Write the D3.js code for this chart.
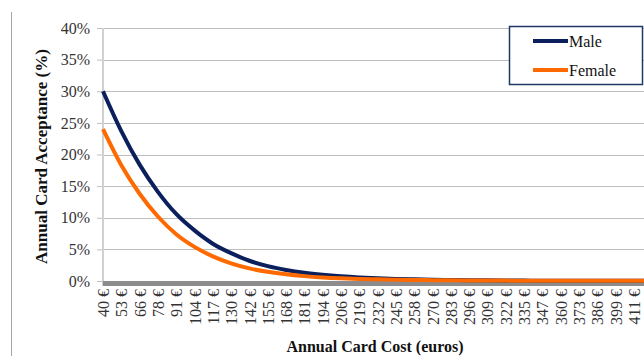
<!DOCTYPE html>
<html>
<head>
<meta charset="utf-8">
<script src="https://cdn.jsdelivr.net/npm/d3@7"></script>
<style>
  html, body { margin: 0; padding: 0; background: #fff; overflow: hidden; }
  svg { display: block; }
</style>
</head>
<body>
<svg id="chart" width="644" height="356"></svg>
<script>
// Annual card cost categories (euros)
const categories = ["40 €","53 €","66 €","78 €","91 €","104 €","117 €","130 €","142 €","155 €",
  "168 €","181 €","194 €","206 €","219 €","232 €","245 €","258 €","270 €","283 €",
  "296 €","309 €","322 €","335 €","347 €","360 €","373 €","386 €","399 €","411 €","424 €"];

// Acceptance rate (%) per cost level
const male = [30.0, 23.7, 18.4, 14.1, 10.6, 8.0, 5.9, 4.4, 3.2, 2.35,
  1.75, 1.3, 0.98, 0.74, 0.56, 0.43, 0.33, 0.26, 0.2, 0.16,
  0.12, 0.1, 0.08, 0.06, 0.05, 0.04, 0.03, 0.03, 0.02, 0.02, 0.02];
const female = [24.0, 18.3, 13.8, 10.2, 7.4, 5.4, 3.9, 2.8, 2.0, 1.45,
  1.05, 0.77, 0.57, 0.43, 0.33, 0.26, 0.2, 0.16, 0.13, 0.1,
  0.08, 0.07, 0.06, 0.05, 0.04, 0.03, 0.03, 0.02, 0.02, 0.02, 0.02];

const yTicks = [0, 5, 10, 15, 20, 25, 30, 35, 40];

const seriesNames = ["Male", "Female"];
const seriesColors = ["#0a1f5c", "#ff6a00"];

const FONT = '"Liberation Serif", "Times New Roman", serif';

const svg = d3.select("#chart");

const plotLeft = 103, plotTop = 28, plotBottom = 281;
const step = 18.3;
const x = d3.scalePoint()
  .domain(categories)
  .range([plotLeft, plotLeft + step * (categories.length - 1)]);
const y = d3.scaleLinear().domain([0, 40]).range([plotBottom, plotTop]);
const plotRight = x(categories[categories.length - 1]);

// outer chart border (left edge)
svg.append("line")
  .attr("x1", 11.5).attr("x2", 11.5).attr("y1", 12).attr("y2", 356)
  .attr("stroke", "#a6a6a6").attr("stroke-width", 1);

// horizontal gridlines
svg.append("g").selectAll("line")
  .data(yTicks.filter(d => d > 0))
  .join("line")
  .attr("x1", plotLeft).attr("x2", plotRight)
  .attr("y1", d => Math.round(y(d)) + 0.5).attr("y2", d => Math.round(y(d)) + 0.5)
  .attr("stroke", "#bdbdbd").attr("stroke-width", 1);

// y axis
const yAxis = d3.axisLeft(y)
  .tickValues(yTicks)
  .tickSize(6)
  .tickPadding(7)
  .tickFormat(d => d + "%");
const gy = svg.append("g").attr("transform", `translate(${plotLeft},0)`).call(yAxis);
gy.select(".domain").remove();
gy.selectAll(".tick line").attr("stroke", "#bdbdbd");
gy.selectAll(".tick text")
  .style("font-family", FONT)
  .style("font-size", "16px")
  .attr("fill", "#333");

svg.append("line")
  .attr("x1", plotLeft).attr("x2", plotLeft).attr("y1", y(40)).attr("y2", plotBottom + 5)
  .attr("stroke", "#d0d0d0").attr("stroke-width", 2);

// thick baseline at 0%
svg.append("rect")
  .attr("x", plotLeft).attr("y", y(0))
  .attr("width", plotRight - plotLeft).attr("height", 5)
  .attr("fill", "#8c8c8c");

// x axis labels (rotated); the last category runs past the right edge
const xAxis = d3.axisBottom(x)
  .tickValues(categories.slice(0, -1))
  .tickSize(0).tickPadding(0);
const gx = svg.append("g").attr("transform", `translate(0,${plotBottom + 8})`).call(xAxis);
gx.select(".domain").remove();
gx.selectAll(".tick text")
  .style("font-family", FONT)
  .style("font-size", "16px")
  .attr("fill", "#333")
  .attr("text-anchor", "end")
  .attr("transform", "rotate(-90)")
  .attr("x", 0).attr("y", 0).attr("dy", "0.35em");

// series lines
const line = d3.line()
  .x((d, i) => x(categories[i]))
  .y(d => y(d))
  .curve(d3.curveMonotoneX);

[male, female].forEach((vals, k) => {
  svg.append("path")
    .datum(vals)
    .attr("fill", "none")
    .attr("stroke", seriesColors[k])
    .attr("stroke-width", 4)
    .attr("stroke-linejoin", "round")
    .attr("d", line);
});

// axis titles
svg.append("text")
  .attr("transform", `translate(47,${(plotTop + plotBottom) / 2 + 2}) rotate(-90)`)
  .attr("text-anchor", "middle")
  .style("font-family", FONT).style("font-size", "17px").style("font-weight", "bold")
  .attr("fill", "#111")
  .text("Annual Card Acceptance (%)");

svg.append("text")
  .attr("x", 375).attr("y", 352)
  .attr("text-anchor", "middle")
  .style("font-family", FONT).style("font-size", "16px").style("font-weight", "bold")
  .attr("fill", "#111")
  .text("Annual Card Cost (euros)");

// legend
const legend = svg.append("g");
legend.append("rect")
  .attr("x", 509.5).attr("y", 26.5).attr("width", 133).attr("height", 58)
  .attr("fill", "#fff").attr("stroke", "#1f3864").attr("stroke-width", 1.5);
seriesNames.forEach((name, k) => {
  const ly = 41 + k * 29;
  legend.append("line")
    .attr("x1", 533).attr("x2", 568).attr("y1", ly).attr("y2", ly)
    .attr("stroke", seriesColors[k]).attr("stroke-width", 4);
  legend.append("text")
    .attr("x", 569).attr("y", ly).attr("dy", "0.35em")
    .style("font-family", FONT).style("font-size", "16px")
    .attr("fill", "#111")
    .text(name);
});
</script>
</body>
</html>
